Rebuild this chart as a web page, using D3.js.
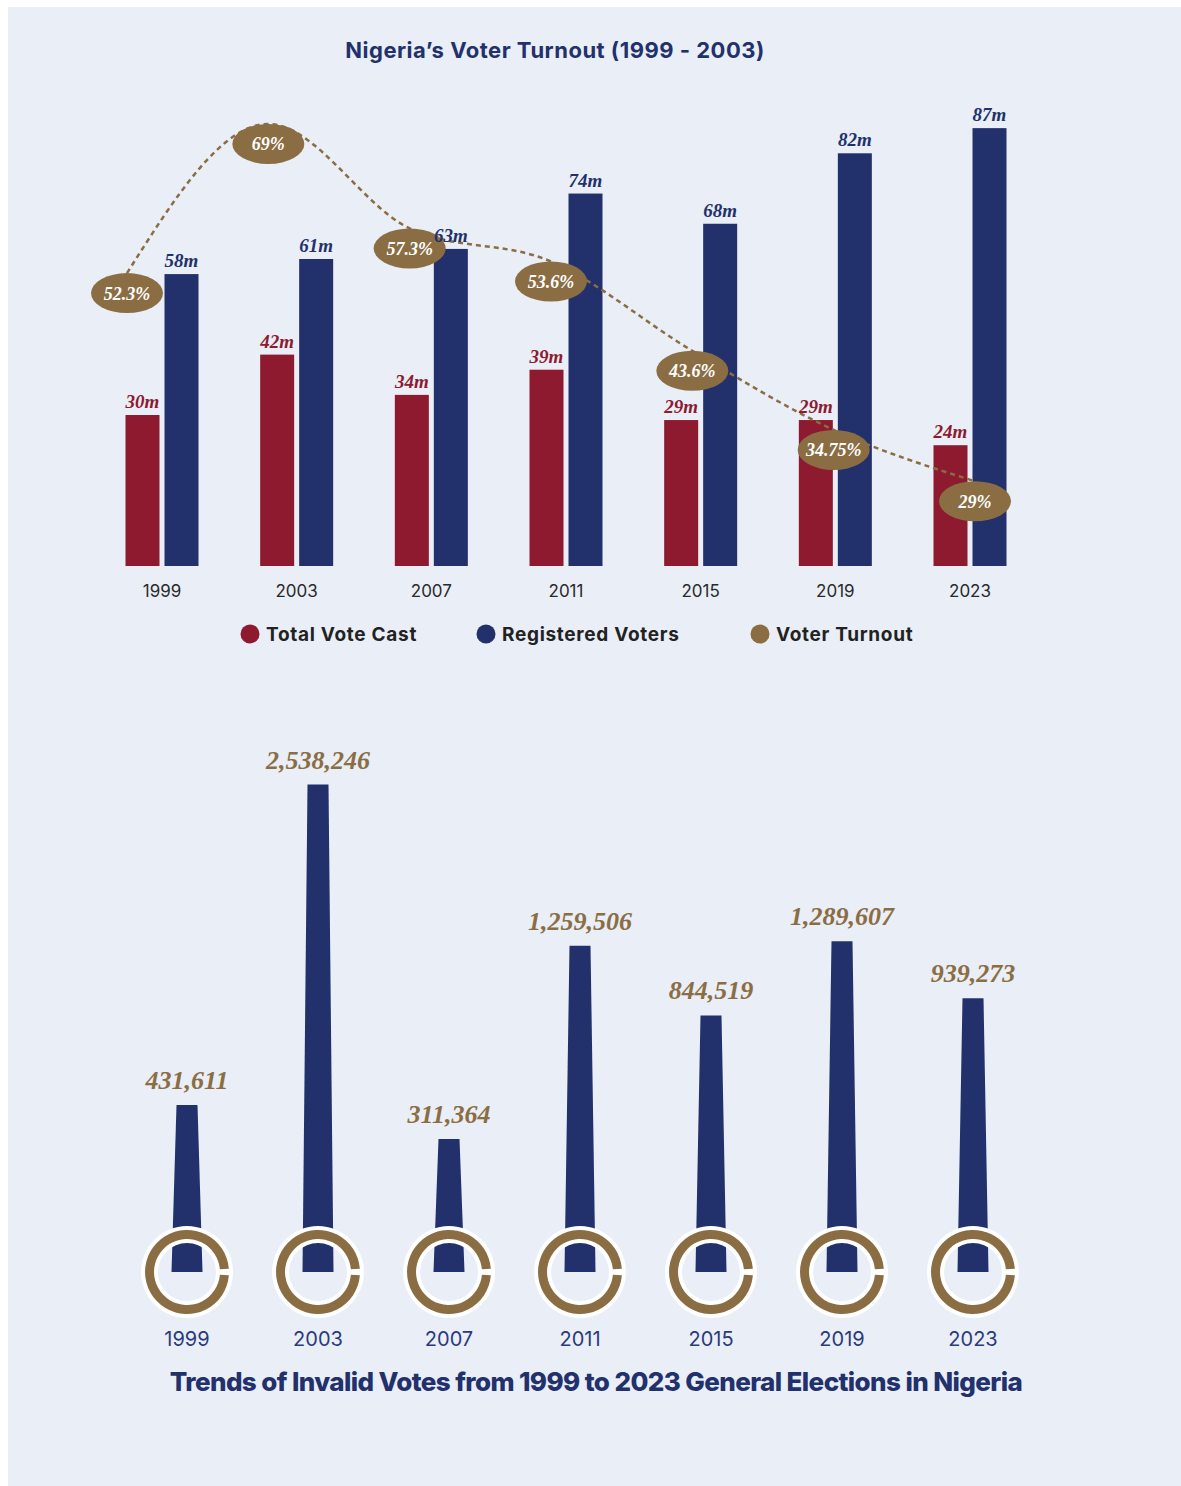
<!DOCTYPE html>
<html>
<head>
<meta charset="utf-8">
<script src="https://cdn.jsdelivr.net/npm/d3@7"></script>
<style>
  body { margin: 0; background: #ffffff; }
  svg { display: block; }
</style>
</head>
<body>
<svg id="chart" width="1181" height="1486"></svg>
<script>
// ---- Data ----
const years = ["1999", "2003", "2007", "2011", "2015", "2019", "2023"];
const totalVoteCast = [30, 42, 34, 39, 29, 29, 24];          // millions
const registeredVoters = [58, 61, 63, 74, 68, 82, 87];       // millions
const voterTurnout = [52.3, 69, 57.3, 53.6, 43.6, 34.75, 29]; // percent
const invalidVotes = [431611, 2538246, 311364, 1259506, 844519, 1289607, 939273];
const legendItems = ["Total Vote Cast", "Registered Voters", "Voter Turnout"];

// ---- Palette & fonts ----
const RED = "#8E1A2F", NAVY = "#22316B", GOLD = "#8B6D43", BG = "#E9EEF7";
const SANS = "Inter, 'Open Sans', sans-serif";
const SERIF = "'Liberation Serif', 'DejaVu Serif', serif";

const svg = d3.select("#chart");
svg.append("rect").attr("x", 8).attr("y", 7).attr("width", 1173).attr("height", 1479).attr("fill", BG);

// ================= Voter turnout chart =================
svg.append("text")
  .attr("x", 555).attr("y", 58).attr("text-anchor", "middle")
  .attr("font-family", SANS).attr("font-weight", 700).attr("font-size", 22)
  .attr("letter-spacing", 0.5)
  .attr("fill", NAVY).text("Nigeria\u2019s Voter Turnout (1999 - 2003)");

const baseY = 566;
const x = d3.scalePoint().domain(years).range([162, 970]);
const y = d3.scaleLinear().domain([0, 91]).range([baseY, 108]);
const barW = 34, gap = 2.5;

const rows = years.map((yr, i) => ({ yr, cast: totalVoteCast[i], reg: registeredVoters[i], turnout: voterTurnout[i] }));

// Paired bars: total vote cast (red) and registered voters (navy)
const bars = svg.append("g").selectAll("g").data(rows).join("g");
bars.append("rect")
  .attr("x", d => x(d.yr) - gap - barW).attr("width", barW)
  .attr("y", d => y(d.cast)).attr("height", d => baseY - y(d.cast))
  .attr("fill", RED);
bars.append("rect")
  .attr("x", d => x(d.yr) + gap).attr("width", barW)
  .attr("y", d => y(d.reg)).attr("height", d => baseY - y(d.reg))
  .attr("fill", NAVY);

// Year axis
svg.append("g").selectAll("text").data(years).join("text")
  .attr("x", d => x(d)).attr("y", 597).attr("text-anchor", "middle")
  .attr("font-family", SANS).attr("font-size", 17).attr("fill", "#2a2a2a")
  .text(d => d);

// Turnout overlay: dashed curve through the top of each badge
const xt = d3.scalePoint().domain(years).range([127, 975]);
const yt = d3.scaleLinear().domain([25, 70]).range([517, 115]);
const badgeRx = 36, badgeRy = 20;

const line = d3.line()
  .x(d => xt(d.yr)).y(d => yt(d.turnout))
  .curve(d3.curveMonotoneX);
svg.append("path").datum(rows)
  .attr("d", line).attr("fill", "none")
  .attr("stroke", GOLD).attr("stroke-width", 2.5).attr("stroke-dasharray", "5,4");

const badges = svg.append("g").selectAll("g").data(rows).join("g")
  .attr("transform", d => `translate(${xt(d.yr)},${yt(d.turnout) + badgeRy})`);
badges.append("ellipse").attr("rx", badgeRx).attr("ry", badgeRy).attr("fill", GOLD);
badges.append("text")
  .attr("y", 6.5).attr("text-anchor", "middle")
  .attr("font-family", SERIF).attr("font-style", "italic").attr("font-weight", 700)
  .attr("font-size", 18).attr("fill", "#ffffff").text(d => d.turnout + "%");

// Value labels above the bars, kept on top of the turnout badges
const labels = svg.append("g").selectAll("g").data(rows).join("g")
  .attr("font-family", SERIF).attr("font-style", "italic")
  .attr("font-weight", 700).attr("font-size", 19).attr("text-anchor", "middle");
labels.append("text")
  .attr("x", d => x(d.yr) - gap - barW / 2).attr("y", d => y(d.cast) - 7)
  .attr("fill", RED).text(d => d.cast + "m");
labels.append("text")
  .attr("x", d => x(d.yr) + gap + barW / 2).attr("y", d => y(d.reg) - 7)
  .attr("fill", NAVY).text(d => d.reg + "m");

// Legend
const legendX = [250, 486, 760];
const legendColors = [RED, NAVY, GOLD];
const legend = svg.append("g").selectAll("g").data(legendItems).join("g")
  .attr("transform", (d, i) => `translate(${legendX[i]},634)`);
legend.append("circle").attr("r", 9.5).attr("fill", (d, i) => legendColors[i]);
legend.append("text")
  .attr("x", 16).attr("y", 7)
  .attr("font-family", SANS).attr("font-weight", 700).attr("font-size", 19)
  .attr("letter-spacing", 0.7)
  .attr("fill", "#222222").text(d => d);

// ================= Invalid votes chart =================
const ringY = 1272;
const xb = d3.scalePoint().domain(years).range([187, 973]);
const yb = d3.scaleSqrt().domain([0, 2600000]).range([1330, 778]);
const topHalf = 10.5, bottomHalf = 15.5;

const inv = years.map((yr, i) => ({ yr, v: invalidVotes[i] }));
const cols = svg.append("g").selectAll("g").data(inv).join("g")
  .attr("transform", d => `translate(${xb(d.yr)},0)`);

// Tapered column
cols.append("path")
  .attr("d", d => {
    const t = yb(d.v);
    return `M${-bottomHalf},${ringY}L${-topHalf},${t}L${topHalf},${t}L${bottomHalf},${ringY}Z`;
  })
  .attr("fill", NAVY);

cols.append("text")
  .attr("y", d => yb(d.v) - 16).attr("text-anchor", "middle")
  .attr("font-family", SERIF).attr("font-style", "italic").attr("font-weight", 700)
  .attr("font-size", 26).attr("fill", GOLD)
  .text(d => d3.format(",")(d.v));

// Ring at the foot of each column
const whiteRing = d3.arc().innerRadius(29).outerRadius(46).startAngle(0).endAngle(2 * Math.PI);
const goldRing = d3.arc().innerRadius(33).outerRadius(42)
  .startAngle(Math.PI / 2 + 0.08).endAngle(Math.PI / 2 + 2 * Math.PI - 0.08);
cols.append("path").attr("transform", `translate(0,${ringY})`).attr("d", whiteRing()).attr("fill", "#ffffff");
cols.append("path").attr("transform", `translate(0,${ringY})`).attr("d", goldRing()).attr("fill", GOLD);

cols.append("text")
  .attr("y", 1346).attr("text-anchor", "middle")
  .attr("font-family", SANS).attr("font-size", 20).attr("fill", "#2B3A7A")
  .text(d => d.yr);

svg.append("text")
  .attr("x", 596).attr("y", 1391).attr("text-anchor", "middle")
  .attr("font-family", SANS).attr("font-weight", 800).attr("font-size", 26)
  .attr("letter-spacing", -0.6)
  .attr("fill", NAVY).text("Trends of Invalid Votes from 1999 to 2023 General Elections in Nigeria");
</script>
</body>
</html>
